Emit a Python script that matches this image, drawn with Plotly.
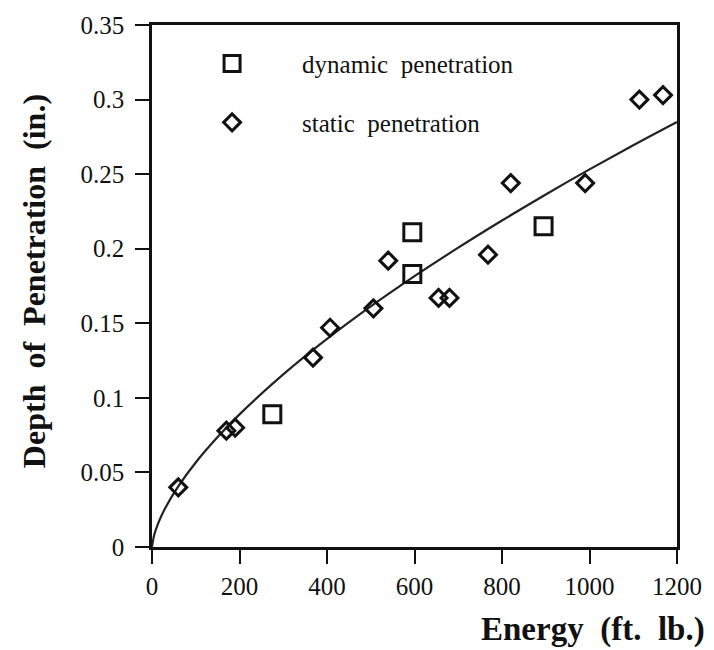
import plotly.graph_objects as go

# dynamic penetration (squares)
dyn_energy = [275, 595, 595, 895]
dyn_depth = [0.089, 0.211, 0.183, 0.215]

# static penetration (diamonds)
sta_energy = [60, 170, 190, 368, 407, 506, 540, 655, 680, 768, 820, 990, 1114, 1168]
sta_depth = [0.040, 0.078, 0.080, 0.127, 0.147, 0.160, 0.192, 0.167, 0.167, 0.196, 0.244, 0.244, 0.300, 0.303]

# fitted curve
fit_energy = [0, 5, 15, 30, 60, 100, 150, 200, 300, 400, 500, 600, 700, 800, 900, 1000, 1100, 1200]
fit_depth = [0, 0.008, 0.0165, 0.026, 0.0407, 0.0567, 0.0737, 0.0889, 0.1157, 0.1395, 0.1613,
             0.1816, 0.2007, 0.2189, 0.2364, 0.2532, 0.2694, 0.285]

x_ticks = [0, 200, 400, 600, 800, 1000, 1200]
y_ticks = [0, 0.05, 0.1, 0.15, 0.2, 0.25, 0.3, 0.35]
y_tick_text = ["0", "0.05", "0.1", "0.15", "0.2", "0.25", "0.3", "0.35"]

FONT = "Liberation Serif, Times New Roman, serif"
INK = "#111111"
PAD = "\u00a0" * 8

fig = go.Figure()
fig.add_trace(go.Scatter(x=fit_energy, y=fit_depth, mode="lines", line=dict(color="#222222", width=2.2, shape="spline"),
                         showlegend=False, hoverinfo="skip"))
fig.add_trace(go.Scatter(x=dyn_energy, y=dyn_depth, mode="markers", name=PAD + "dynamic  penetration",
                         marker=dict(symbol="square-open", size=17, color=INK, line=dict(width=3, color=INK)),
                         legend="legend"))
fig.add_trace(go.Scatter(x=sta_energy, y=sta_depth, mode="markers", name=PAD + "static  penetration",
                         marker=dict(symbol="diamond-open", size=13, color=INK, line=dict(width=3, color=INK)),
                         legend="legend2"))

axis_common = dict(showline=True, linecolor=INK, linewidth=2.5, mirror=True, ticks="outside", ticklen=14,
                   tickwidth=2, tickcolor=INK, showgrid=False, zeroline=False,
                   tickfont=dict(family=FONT, size=25, color=INK))

fig.update_xaxes(range=[0, 1200], tickvals=x_ticks, ticklabelstandoff=1, **axis_common)
fig.update_yaxes(range=[0, 0.35], tickvals=y_ticks, ticktext=y_tick_text, ticklabelstandoff=6, **axis_common)

fig.update_layout(
    width=714, height=650,
    margin=dict(l=152, r=31, t=16, b=103),
    paper_bgcolor="white", plot_bgcolor="white",
    showlegend=True,
    legend=dict(x=0.1144, y=0.926, xanchor="left", yanchor="middle", bgcolor="rgba(0,0,0,0)",
                font=dict(family=FONT, size=25, color=INK)),
    legend2=dict(x=0.1144, y=0.813, xanchor="left", yanchor="middle", bgcolor="rgba(0,0,0,0)",
                 font=dict(family=FONT, size=25, color=INK)),
    annotations=[
        dict(text="<b>Depth  of  Penetration  (in.)</b>", textangle=-90, xref="paper", yref="paper",
             x=-0.226, y=0.51, xanchor="center", yanchor="middle", showarrow=False,
             font=dict(family=FONT, size=32, color=INK)),
        dict(text="<b>Energy  (ft.  lb.)</b>", xref="paper", yref="paper",
             x=1.058, y=-0.158, xanchor="right", yanchor="middle", showarrow=False,
             font=dict(family=FONT, size=33, color=INK)),
    ],
)

fig.write_html("out.html")
